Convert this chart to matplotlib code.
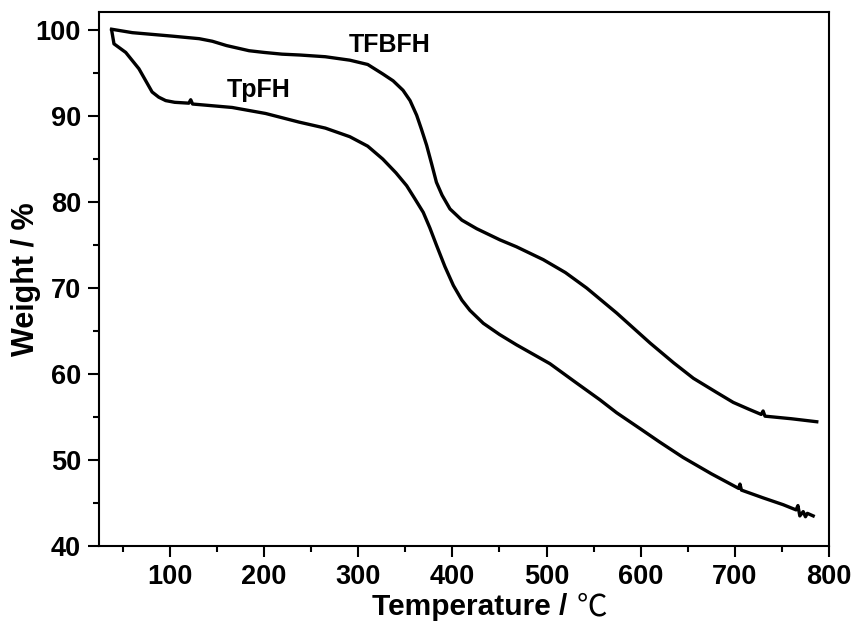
import matplotlib
matplotlib.use("Agg")
import matplotlib.pyplot as plt
from matplotlib.ticker import MultipleLocator

# TFBFH (upper curve)
tfbfh_temp = [38, 60, 102, 131, 145, 160, 184, 200, 219, 238, 265, 291, 310, 326, 337, 347.5, 355, 362,
              367, 372.6, 378, 383, 389, 397.4, 410, 425.8, 450.5, 468, 496.5, 520, 542.6, 574.4,
              610, 635, 656, 680, 698.3, 715, 728, 730, 732, 760, 787]
tfbfh_weight = [100.1, 99.7, 99.3, 99.0, 98.7, 98.2, 97.6, 97.4, 97.2, 97.1, 96.9, 96.5, 96.0, 94.9, 94.1, 93.0, 91.8, 90.1,
                88.5, 86.6, 84.4, 82.3, 80.8, 79.2, 77.9, 76.9, 75.6, 74.8, 73.3, 71.8, 70.0, 67.1,
                63.6, 61.3, 59.5, 57.9, 56.7, 55.9, 55.3, 55.7, 55.1, 54.8, 54.45]

# TpFH (lower curve)
tpfh_temp = [38, 40.5, 53, 67, 81, 88, 95.4, 105, 120, 122, 124, 166, 201.6, 237, 265, 291, 310, 326, 340,
             351.4, 360, 369, 376, 383, 392, 401, 410, 418.6, 432.8, 450, 468, 503.6, 530, 556.7, 574.4,
             600, 620, 645, 675, 704, 705.4, 707, 730, 751.4, 765, 767, 769, 772.6, 775, 777, 783.2]
tpfh_weight = [100.0, 98.4, 97.4, 95.5, 92.8, 92.2, 91.8, 91.6, 91.5, 91.9, 91.4, 91.0, 90.3, 89.3, 88.6, 87.6, 86.5, 85.0, 83.4,
               81.9, 80.4, 78.8, 77.0, 75.0, 72.5, 70.3, 68.6, 67.4, 65.9, 64.6, 63.4, 61.2, 59.1, 57.0, 55.5,
               53.6, 52.1, 50.3, 48.4, 46.7, 47.2, 46.5, 45.6, 44.8, 44.2, 44.7, 43.5, 44.0, 43.4, 43.8, 43.5]

xticks = [100, 200, 300, 400, 500, 600, 700, 800]
yticks = [40, 50, 60, 70, 80, 90, 100]

plt.rcParams['font.family'] = ['Liberation Sans', 'Noto Sans CJK SC', 'DejaVu Sans']

fig = plt.figure(figsize=(8.58, 6.23), dpi=100)
ax = fig.add_axes([0.1154, 0.1236, 0.8508, 0.8571])

ax.plot(tfbfh_temp, tfbfh_weight, color='black', lw=2.4, solid_joinstyle='round')
ax.plot(tpfh_temp, tpfh_weight, color='black', lw=2.4, solid_joinstyle='round')

ax.set_xlim(24.6, 800)
ax.set_ylim(40, 102.1)
ax.set_xticks(xticks)
ax.set_yticks(yticks)
ax.xaxis.set_minor_locator(MultipleLocator(50))
ax.yaxis.set_minor_locator(MultipleLocator(5))
ax.tick_params(which='major', direction='out', length=8, width=1.5, labelsize=19.5, pad=5)
ax.tick_params(which='minor', direction='out', length=4.5, width=1.5)
ax.tick_params(top=False, right=False)
for lbl in ax.get_xticklabels() + ax.get_yticklabels():
    lbl.set_fontweight('bold')
for sp in ax.spines.values():
    sp.set_linewidth(1.5)

ax.set_ylabel('Weight / %', fontsize=22, fontweight='bold', labelpad=-4)

ax.text(333.6, 98.3, 'TFBFH', fontsize=18, fontweight='bold', ha='center', va='center')
ax.text(194.5, 93.0, 'TpFH', fontsize=18, fontweight='bold', ha='center', va='center')

# x-axis title: bold text followed by a thin degree-Celsius sign
W, H = 858.0, 623.0
xt = fig.text(372 / W, 1 - 615 / H, 'Temperature / ', fontsize=21.5, fontweight='bold',
              ha='left', va='baseline')
fig.canvas.draw()
r = fig.canvas.get_renderer()
bb = xt.get_window_extent(r)
fig.text((bb.x1 + 1) / W, 1 - 615 / H, '℃', fontsize=22, fontweight='normal',
         family=['Noto Sans CJK SC', 'DejaVu Sans'], ha='left', va='baseline')

fig.savefig('out.png', dpi=100)
